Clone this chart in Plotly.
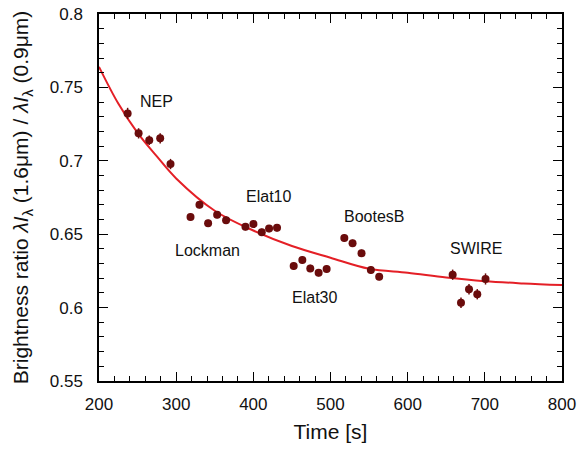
import plotly.graph_objects as go

# Measured points (time [s], brightness ratio, error)
time_s = [237.1, 251.3, 265.1, 279.3, 292.7,
          318.6, 330.2, 341.4, 353.1, 364.7,
          389.8, 400.1, 410.9, 420.4, 430.7,
          452.3, 463.5, 473.8, 484.6, 495.0,
          517.9, 528.6, 540.2, 552.3, 563.1,
          658.3, 669.1, 679.5, 690.2, 700.9]
ratio = [0.7323, 0.7187, 0.7140, 0.7153, 0.6978,
         0.6617, 0.6701, 0.6574, 0.6633, 0.6595,
         0.6551, 0.6569, 0.6513, 0.6538, 0.6544,
         0.6283, 0.6324, 0.6267, 0.6238, 0.6263,
         0.6474, 0.6438, 0.6370, 0.6256, 0.6211,
         0.6224, 0.6033, 0.6125, 0.6091, 0.6195]
ratio_err = [0.0038, 0.0035, 0.0033, 0.0035, 0.0035,
             0.0025, 0.0025, 0.0025, 0.0025, 0.0025,
             0.0025, 0.0025, 0.0025, 0.0025, 0.0025,
             0.0025, 0.0025, 0.0025, 0.0025, 0.0025,
             0.0025, 0.0025, 0.0025, 0.0025, 0.0025,
             0.0035, 0.0035, 0.0035, 0.0035, 0.0038]

# Fit curve
fit_t = [200, 225, 250, 275, 300, 350, 400, 450, 500, 550, 600, 650, 700, 750, 800]
fit_y = [0.764, 0.739, 0.719, 0.703, 0.688, 0.666, 0.6525, 0.642, 0.634, 0.6265,
         0.6238, 0.6205, 0.618, 0.6165, 0.6154]

# Field labels
field_names = ["NEP", "Elat10", "Lockman", "BootesB", "Elat30", "SWIRE"]
field_t = [274, 419, 341, 557, 479, 689]
field_y = [0.7403, 0.6755, 0.6392, 0.6624, 0.607, 0.640]

x_ticks = [200, 300, 400, 500, 600, 700, 800]
y_ticks = [0.55, 0.6, 0.65, 0.7, 0.75, 0.8]
y_ticklabels = ["0.55", "0.6", "0.65", "0.7", "0.75", "0.8"]

FONT = "Liberation Sans, Arial, sans-serif"
DOT = "#6a0c0c"
TXT = "#111111"

fig = go.Figure()
fig.add_trace(go.Scatter(
    x=fit_t, y=fit_y, mode="lines", line=dict(color="#e41f26", width=2, shape="spline", smoothing=1.0),
    hoverinfo="skip", showlegend=False))
fig.add_trace(go.Scatter(
    x=time_s, y=ratio, mode="markers",
    marker=dict(color=DOT, size=8),
    error_y=dict(type="data", array=ratio_err, color=DOT, thickness=1.5, width=0),
    showlegend=False))

for name, tx, ty in zip(field_names, field_t, field_y):
    fig.add_annotation(x=tx, y=ty, text=name, showarrow=False,
                       font=dict(family=FONT, size=16, color=TXT))

axis_common = dict(
    showline=True, linecolor="black", linewidth=1.5, mirror="ticks",
    ticks="inside", ticklen=9, tickwidth=1, tickcolor="black",
    showgrid=False, zeroline=False, automargin=False,
    tickfont=dict(family=FONT, size=17, color=TXT),
)

fig.update_xaxes(range=[200, 800], tickvals=x_ticks, ticklabelstandoff=7,
                 minor=dict(dtick=20, ticks="inside", ticklen=5, tickcolor="black", tickwidth=1, showgrid=False),
                 title=dict(text="Time [s]", font=dict(family=FONT, size=21, color=TXT), standoff=11),
                 **axis_common)
fig.update_yaxes(range=[0.55, 0.8], tickvals=y_ticks, ticktext=y_ticklabels, ticklabelstandoff=11,
                 minor=dict(dtick=0.01, ticks="inside", ticklen=5, tickcolor="black", tickwidth=1, showgrid=False),
                 title=dict(text="Brightness ratio <i>λI</i><sub>λ</sub> (1.6μm) / <i>λI</i><sub>λ</sub> (0.9μm)",
                            font=dict(family=FONT, size=21, color=TXT), standoff=15),
                 **axis_common)

fig.update_layout(
    width=579, height=452,
    margin=dict(l=99, r=17, t=14, b=71),
    paper_bgcolor="white", plot_bgcolor="white",
    font=dict(family=FONT),
)

fig.write_html("out.html", config={"displayModeBar": False},
               post_script="document.body.style.margin='0';document.body.style.overflow='hidden';")
